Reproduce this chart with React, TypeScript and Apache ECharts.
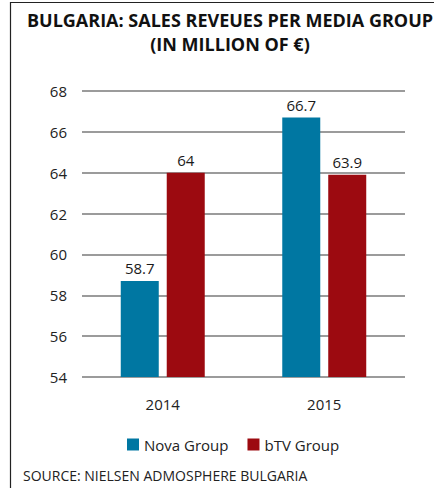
import React, { useEffect, useRef } from "react";
import * as echarts from "echarts";

const categories = ["2014", "2015"];
const novaValues = [58.7, 66.7];
const btvValues = [64, 63.9];
const seriesNames = ["Nova Group", "bTV Group"];
const titleLines = ["BULGARIA: SALES REVEUES PER MEDIA GROUP", "(IN MILLION OF €)"];
const sourceText = "SOURCE: NIELSEN ADMOSPHERE BULGARIA";

const FONT = "'Open Sans', 'Noto Sans', sans-serif";

export default function App() {
  const ref = useRef<HTMLDivElement>(null);
  useEffect(() => {
    if (!ref.current) return;
    const chart = echarts.init(ref.current, undefined, { renderer: "svg" });
    const label = {
      show: true,
      position: "top" as const,
      distance: 5,
      color: "#1a1a1a",
      fontSize: 15,
      fontFamily: FONT,
    };
    chart.setOption({
      animation: false,
      backgroundColor: "#ffffff",
      textStyle: { fontFamily: FONT },
      title: {
        text: titleLines.join("\n"),
        left: 225,
        textAlign: "center",
        top: 3,
        textStyle: {
          fontSize: 18,
          fontWeight: "bold",
          color: "#111",
          lineHeight: 24,
          fontFamily: FONT,
        },
      },
      graphic: [
        {
          type: "polyline",
          shape: { points: [[10.5, 500], [10.5, 2.5], [440, 2.5]] },
          style: { stroke: "#222", lineWidth: 1.2, fill: "none" },
        },
        {
          type: "text",
          left: 23,
          top: 468,
          style: { text: sourceText, fontSize: 14, fill: "#222", fontFamily: FONT },
        },
      ],
      legend: {
        top: 432,
        left: 122,
        itemWidth: 12,
        itemHeight: 12,
        itemGap: 19,
        icon: "rect",
        textStyle: { fontSize: 15, color: "#222", fontFamily: FONT },
        data: seriesNames,
      },
      grid: { left: 82, right: 29, top: 91, bottom: 111 },
      xAxis: {
        type: "category",
        data: categories,
        axisLine: { show: false },
        axisTick: { show: false },
        axisLabel: { fontSize: 15, color: "#222", margin: 19, fontFamily: FONT },
      },
      yAxis: {
        type: "value",
        min: 54,
        max: 68,
        interval: 2,
        axisLine: { show: false },
        axisTick: { show: false },
        axisLabel: { fontSize: 15, color: "#222", margin: 15, fontFamily: FONT },
        splitLine: { lineStyle: { color: "#7a7a7a", width: 1.5 } },
      },
      series: [
        {
          name: seriesNames[0],
          type: "bar",
          data: novaValues,
          barWidth: 38,
          barGap: "21%",
          itemStyle: { color: "#0077a2" },
          label,
        },
        {
          name: seriesNames[1],
          type: "bar",
          data: btvValues,
          barWidth: 38,
          itemStyle: { color: "#9c0a10" },
          label,
        },
      ],
    });
    return () => chart.dispose();
  }, []);
  return (
    <div
      ref={ref}
      style={{ position: "absolute", left: 0, top: 0, width: 434, height: 488 }}
    />
  );
}
